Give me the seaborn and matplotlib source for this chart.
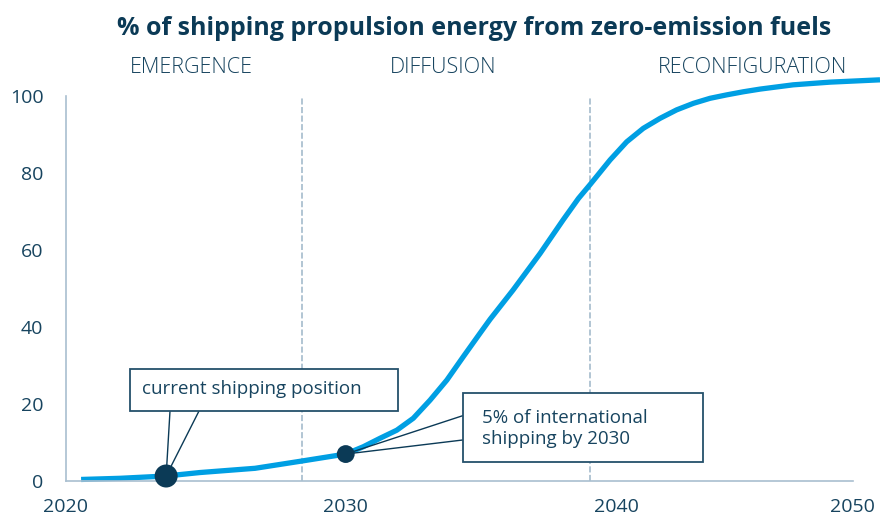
import numpy as np
import pandas as pd
import matplotlib
matplotlib.use("Agg")
import matplotlib.pyplot as plt
from matplotlib.patches import Rectangle
from matplotlib.transforms import Affine2D
import seaborn as sns

# ---- data -------------------------------------------------------------
title = "% of shipping propulsion energy from zero-emission fuels"

phases = ["EMERGENCE", "DIFFUSION", "RECONFIGURATION"]
phase_centres = [2024.49, 2033.62, 2045.78]
phase_bounds = [2028.44, 2039.04]

years = [2020.54, 2021.93, 2023.58, 2024.79, 2026.76, 2028.44, 2030.00,
         2030.65, 2031.27, 2031.89, 2032.50, 2033.12, 2033.74, 2034.35,
         2034.97, 2035.34, 2036.19, 2037.19, 2038.04, 2038.61, 2039.04,
         2039.78, 2040.45, 2041.15, 2041.86, 2042.56, 2043.27, 2043.97,
         2044.68, 2045.38, 2046.09, 2047.48, 2049.04, 2051.15]
share = [0.4, 0.7, 1.3, 2.2, 3.3, 5.2, 7.0,
         8.9, 11.1, 13.2, 16.3, 21.0, 26.2, 32.3,
         38.4, 42.0, 49.6, 59.1, 67.8, 73.4, 77.0,
         83.4, 88.1, 91.6, 94.2, 96.4, 98.1, 99.4,
         100.3, 101.1, 101.8, 102.9, 103.6, 104.2]

marker_years = [2023.58, 2030.0]
marker_values = [1.3, 7.0]
marker_labels = ["current shipping position", "5% of international\nshipping by 2030"]

x_ticks = [2020, 2030, 2040, 2050]
y_ticks = [0, 20, 40, 60, 80, 100]

# ---- style ------------------------------------------------------------
BLUE = "#009fe3"
NAVY = "#0b3a56"
TEXT = "#17445f"
AXIS = "#a9bfd0"
DASH = "#9db5c8"

sns.set_theme(style="white")
plt.rcParams["font.family"] = ["Open Sans", "DejaVu Sans"]

W, H = 880, 518
fig = plt.figure(figsize=(W / 100, H / 100), dpi=100)
ax = fig.add_axes([66 / W, (H - 500) / H, (W - 66) / W, 440 / H])

# transform for layout given in pixels from the top-left corner
px = Affine2D().scale(1 / W, -1 / H).translate(0, 1) + fig.transFigure

# the decades on the year axis are drawn with unequal widths
decade_width = np.array([279.7, 270.3, 236.7])
anchor_pos = np.concatenate([[-decade_width[0], 0], np.cumsum(decade_width),
                             [decade_width.sum() + decade_width[-1]]])
anchor_year = np.array([2010, 2020, 2030, 2040, 2050, 2060], dtype=float)


def forward(x):
    return np.interp(x, anchor_year, anchor_pos)


def inverse(p):
    return np.interp(p, anchor_pos, anchor_year)


ax.set_xscale("function", functions=(forward, inverse))
ax.set_xlim(2020, 2051.15)
ax.set_ylim(-4.935, 109.35)

# phase boundaries
ax.vlines(phase_bounds, 0, 100, colors=DASH, linestyles=(0, (4, 1.6)),
          linewidth=1.1, zorder=1)

# adoption curve
df = pd.DataFrame({"year": years, "share": share})
sns.lineplot(data=df, x="year", y="share", ax=ax, color=BLUE, linewidth=3.8,
             sort=False, estimator=None, zorder=2,
             solid_joinstyle="round", solid_capstyle="butt")

# highlighted points
for yr, val, size in zip(marker_years, marker_values, [275, 165]):
    ax.scatter([yr], [val], s=size, color=NAVY, edgecolor="none", zorder=6)

# callout boxes
boxes = [(130, 369, 268, 42), (462.7, 393.3, 240.6, 68.4)]
leader_roots = [[(170, 411), (199, 411)], [(462.7, 415.7), (462.7, 440)]]
text_pos = [(142, 389), (481.5, 428.5)]
for (bx, by, bw, bh), roots, (tx, ty), label, yr, val in zip(
        boxes, leader_roots, text_pos, marker_labels, marker_years, marker_values):
    fig.patches.append(Rectangle((bx, by), bw, bh, transform=px, facecolor="white",
                                 edgecolor="#24506b", linewidth=1.3, zorder=4))
    for root in roots:
        ax.annotate("", xy=(yr, val), xycoords="data", xytext=root, textcoords=px,
                    arrowprops=dict(arrowstyle="-", color=NAVY, lw=1.0,
                                    shrinkA=0, shrinkB=0), zorder=3)
    fig.text(tx, ty, label, transform=px, ha="left", va="center", fontsize=13.5,
             color=TEXT, linespacing=1.2, zorder=5)

# phase names above the plotting area
for name, centre in zip(phases, phase_centres):
    fig.text(66 + forward(centre), 73.3, name, transform=px, ha="center",
             va="baseline", fontsize=15.5, fontweight="light", color=TEXT)

# title
fig.text(474.5, 35, title, transform=px, ha="center", va="baseline",
         fontsize=18, fontweight="bold", color=NAVY)

# axes
sns.despine(ax=ax)
for side in ["left", "bottom"]:
    ax.spines[side].set_color(AXIS)
    ax.spines[side].set_linewidth(1.2)
ax.spines["bottom"].set_position(("data", 0))
ax.spines["left"].set_bounds(0, 100)
ax.spines["bottom"].set_bounds(2020, 2050)
ax.set_xticks(x_ticks)
ax.set_xticklabels([str(t) for t in x_ticks])
ax.set_yticks(y_ticks)
ax.set_yticklabels([str(t) for t in y_ticks])
ax.tick_params(axis="both", length=8.3, width=1.2, color=AXIS,
               labelcolor=TEXT, labelsize=14)
ax.tick_params(axis="x", pad=4)
ax.tick_params(axis="y", pad=8)
ax.set_xlabel("")
ax.set_ylabel("")
ax.grid(False)

fig.savefig("out.png", dpi=100)
